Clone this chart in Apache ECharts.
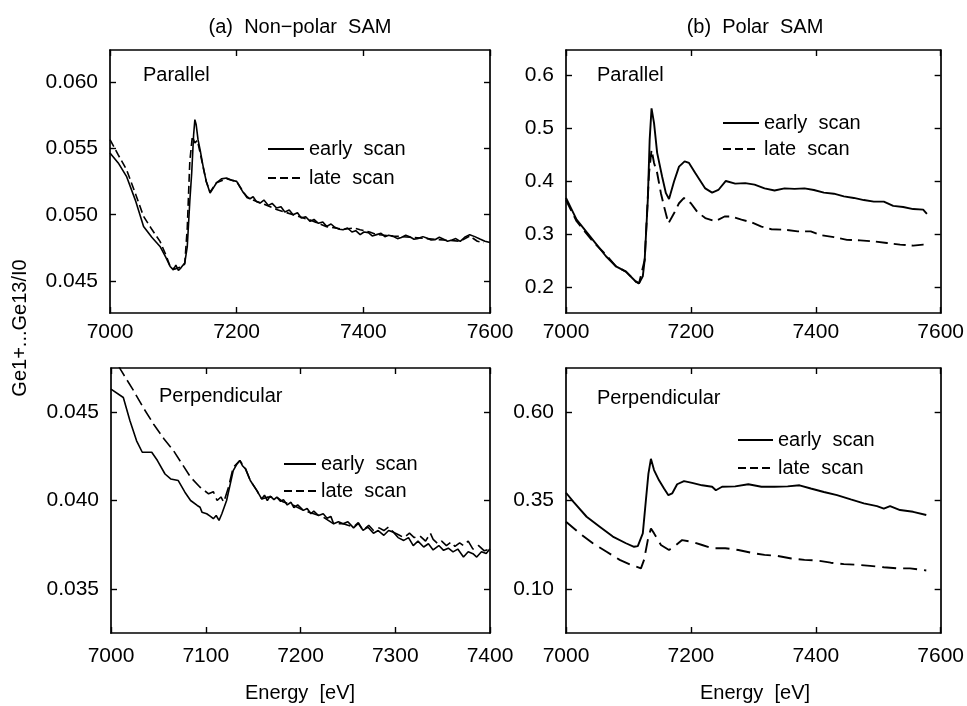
<!DOCTYPE html>
<html>
<head>
<meta charset="utf-8">
<script src="https://cdn.jsdelivr.net/npm/echarts@6/dist/echarts.min.js"></script>
<style>
  html, body { margin: 0; padding: 0; background: #fff; }
  #chart { width: 967px; height: 706px; }
</style>
</head>
<body>
<div id="chart"></div>
<script>
// ---- data (energy in eV, signal Ge1+...Ge13/I0) ----

// (a) non-polar, parallel
const aParEarlyE = [7000,7013,7026,7040,7053,7066,7079,7088,7095,7100,7104,7108,7112,7118,7122,7126,7129,7132,7134,7136,7139,7143,7147,7152,7158,7163,7168,7176,7184,7192,7200,7205,7210,7216,7221,7226,7231,7237,7243,7250,7256,7263,7270,7276,7283,7289,7296,7302,7309,7316,7322,7329,7336,7342,7349,7355,7362,7368,7375,7382,7388,7395,7401,7408,7414,7421,7428,7434,7440,7447,7454,7460,7467,7474,7480,7487,7494,7500,7507,7513,7520,7526,7533,7540,7546,7553,7560,7568,7576,7584,7592,7600];
const aParEarlyV = [0.05465,0.05390,0.05289,0.05110,0.04912,0.04830,0.04761,0.04680,0.04610,0.04585,0.04620,0.04580,0.04600,0.04636,0.04760,0.05100,0.05314,0.05600,0.05716,0.05680,0.05565,0.05470,0.05364,0.05250,0.05163,0.05200,0.05239,0.05270,0.05276,0.05260,0.05251,0.05210,0.05170,0.05138,0.05120,0.05135,0.05100,0.05088,0.05110,0.05070,0.05085,0.05050,0.05060,0.05020,0.05035,0.05000,0.05015,0.04975,0.04985,0.04950,0.04965,0.04935,0.04945,0.04912,0.04930,0.04905,0.04890,0.04887,0.04900,0.04870,0.04880,0.04850,0.04870,0.04865,0.04840,0.04850,0.04860,0.04835,0.04845,0.04837,0.04820,0.04828,0.04845,0.04832,0.04815,0.04822,0.04835,0.04824,0.04810,0.04812,0.04830,0.04817,0.04800,0.04810,0.04820,0.04799,0.04830,0.04850,0.04835,0.04817,0.04800,0.04791];
const aParLateE = [7000,7013,7026,7040,7053,7066,7079,7088,7095,7102,7108,7114,7118,7122,7126,7130,7134,7138,7143,7147,7152,7158,7168,7184,7200,7216,7237,7263,7289,7316,7342,7368,7385,7395,7410,7421,7447,7474,7500,7526,7553,7568,7580,7590];
const aParLateV = [0.05565,0.05450,0.05340,0.05160,0.04987,0.04890,0.04799,0.04700,0.04610,0.04590,0.04600,0.04610,0.04630,0.04900,0.05400,0.05590,0.05540,0.05560,0.05450,0.05360,0.05250,0.05170,0.05240,0.05270,0.05250,0.05130,0.05090,0.05040,0.05000,0.04960,0.04910,0.04890,0.04900,0.04887,0.04870,0.04850,0.04840,0.04830,0.04820,0.04810,0.04800,0.04840,0.04800,0.04790];

// (b) polar, parallel
const bParEarlyE = [7000,7017,7043,7064,7080,7096,7112,7117,7123,7126,7131,7134,7137,7141,7146,7154,7160,7165,7173,7181,7190,7197,7207,7223,7234,7244,7256,7271,7287,7302,7318,7334,7350,7366,7382,7397,7413,7429,7445,7461,7477,7493,7509,7524,7540,7556,7572,7578];
const bParEarlyV = [0.369,0.328,0.290,0.259,0.240,0.230,0.211,0.208,0.221,0.252,0.365,0.479,0.538,0.510,0.454,0.409,0.378,0.367,0.400,0.428,0.438,0.435,0.416,0.387,0.379,0.384,0.401,0.396,0.397,0.394,0.387,0.383,0.387,0.386,0.387,0.384,0.379,0.377,0.372,0.369,0.365,0.362,0.362,0.354,0.352,0.348,0.347,0.339];
const bParLateE = [7000,7017,7043,7064,7080,7096,7112,7117,7126,7133,7137,7141,7146,7152,7157,7164,7173,7181,7189,7200,7210,7223,7239,7254,7265,7281,7297,7313,7329,7350,7371,7392,7408,7429,7450,7471,7493,7514,7535,7556,7572,7578];
const bParLateV = [0.365,0.325,0.287,0.262,0.240,0.230,0.211,0.208,0.252,0.416,0.460,0.435,0.416,0.378,0.353,0.321,0.340,0.359,0.369,0.359,0.343,0.331,0.325,0.334,0.334,0.328,0.323,0.315,0.310,0.309,0.306,0.306,0.299,0.295,0.290,0.289,0.287,0.284,0.281,0.279,0.281,0.281];

// (a) non-polar, perpendicular
const aPerEarlyE = [7000,7013,7020,7027,7033,7043,7049,7057,7063,7071,7078,7084,7091,7094,7096,7101,7105,7108,7111,7114,7117,7122,7129,7133,7136,7139,7142,7147,7154,7159,7162,7165,7168,7172,7175,7179,7182,7186,7190,7193,7197,7203,7207,7211,7214,7219,7224,7228,7232,7235,7240,7245,7250,7256,7261,7266,7271,7277,7282,7288,7293,7298,7303,7309,7314,7319,7324,7330,7335,7340,7346,7351,7356,7361,7366,7372,7377,7382,7386,7391,7396,7400];
const aPerEarlyV = [0.04630,0.04583,0.04451,0.04338,0.04273,0.04273,0.04226,0.04150,0.04122,0.04113,0.04047,0.04000,0.03972,0.03962,0.03934,0.03925,0.03910,0.03897,0.03915,0.03887,0.03925,0.04000,0.04169,0.04207,0.04226,0.04195,0.04179,0.04113,0.04056,0.04009,0.04030,0.04000,0.04025,0.04005,0.04019,0.03995,0.04005,0.03975,0.03990,0.03960,0.03975,0.03944,0.03955,0.03925,0.03940,0.03915,0.03925,0.03900,0.03910,0.03868,0.03880,0.03868,0.03880,0.03845,0.03870,0.03831,0.03850,0.03815,0.03830,0.03803,0.03830,0.03821,0.03790,0.03774,0.03790,0.03745,0.03770,0.03737,0.03755,0.03720,0.03745,0.03718,0.03730,0.03709,0.03725,0.03680,0.03710,0.03699,0.03680,0.03710,0.03700,0.03727];
const aPerLateE = [7000,7010,7024,7034,7045,7056,7066,7075,7084,7094,7103,7108,7112,7116,7119,7124,7129,7136,7142,7147,7154,7159,7165,7175,7182,7193,7203,7214,7224,7235,7245,7256,7261,7266,7272,7277,7283,7288,7293,7298,7304,7309,7315,7320,7326,7332,7337,7340,7345,7349,7354,7359,7363,7368,7372,7377,7382,7388,7394,7400];
const aPerLateV = [0.04850,0.04742,0.04620,0.04526,0.04432,0.04348,0.04282,0.04207,0.04132,0.04075,0.04038,0.04050,0.04000,0.04020,0.03991,0.04075,0.04188,0.04226,0.04179,0.04113,0.04056,0.04009,0.04019,0.04019,0.03991,0.03972,0.03944,0.03925,0.03906,0.03868,0.03868,0.03850,0.03875,0.03831,0.03860,0.03830,0.03845,0.03830,0.03850,0.03821,0.03805,0.03790,0.03815,0.03790,0.03800,0.03770,0.03815,0.03780,0.03755,0.03770,0.03745,0.03765,0.03740,0.03760,0.03745,0.03770,0.03725,0.03745,0.03715,0.03727];

// (b) polar, perpendicular
const bPerEarlyE = [7000,7012,7033,7054,7075,7096,7109,7115,7123,7128,7132,7136,7141,7149,7157,7164,7170,7178,7189,7202,7218,7234,7240,7250,7271,7292,7313,7334,7355,7374,7392,7413,7434,7456,7477,7498,7509,7519,7535,7556,7577];
const bPerEarlyV = [0.372,0.346,0.304,0.276,0.248,0.229,0.219,0.221,0.257,0.352,0.426,0.468,0.436,0.407,0.384,0.365,0.370,0.396,0.405,0.400,0.393,0.389,0.379,0.389,0.390,0.396,0.389,0.389,0.390,0.393,0.384,0.374,0.365,0.353,0.342,0.334,0.327,0.334,0.323,0.318,0.309];
const bPerLateE = [7000,7022,7043,7065,7086,7104,7120,7125,7131,7136,7141,7152,7165,7173,7186,7202,7218,7234,7255,7276,7297,7318,7339,7361,7382,7403,7424,7445,7466,7487,7509,7530,7551,7577];
const bPerLateV = [0.290,0.257,0.229,0.205,0.182,0.168,0.158,0.182,0.238,0.271,0.257,0.224,0.210,0.219,0.238,0.233,0.224,0.215,0.215,0.210,0.202,0.196,0.193,0.186,0.182,0.180,0.174,0.170,0.168,0.165,0.161,0.158,0.158,0.152];

// tick labels
const xTicksWide = [7000, 7200, 7400, 7600];
const xTicksNarrow = [7000, 7100, 7200, 7300, 7400];
const yTicksAPar = [0.045, 0.050, 0.055, 0.060];
const yTicksBPar = [0.2, 0.3, 0.4, 0.5, 0.6];
const yTicksAPer = [0.035, 0.040, 0.045];
const yTicksBPer = [0.10, 0.35, 0.60];

// ---- chart ----
const FONT = "'Liberation Sans', Arial, sans-serif";
const chart = echarts.init(document.getElementById('chart'), null, { renderer: 'canvas' });

function zip(xs, ys) {
    return xs.map((x, i) => [x, ys[i]]);
}

const grids = [
    { left: 110, top: 50, width: 380, height: 263 },
    { left: 566, top: 50, width: 378, height: 263 },
    { left: 111, top: 368, width: 379, height: 265 },
    { left: 566, top: 368, width: 378, height: 265 }
];

const panels = [
    { xMin: 7000, xMax: 7600, xTicks: xTicksWide, yMin: 0.0426, yMax: 0.0624, yTicks: yTicksAPar, dec: 3, labelMargin: 9 },
    { xMin: 7000, xMax: 7600, xTicks: xTicksWide, yMin: 0.152, yMax: 0.648, yTicks: yTicksBPar, dec: 1, labelMargin: 9 },
    { xMin: 7000, xMax: 7400, xTicks: xTicksNarrow, yMin: 0.0325, yMax: 0.0475, yTicks: yTicksAPer, dec: 3, labelMargin: 13 },
    { xMin: 7000, xMax: 7600, xTicks: xTicksWide, yMin: -0.025, yMax: 0.725, yTicks: yTicksBPer, dec: 2, labelMargin: 13 }
];

const axisLine = { show: true, onZero: false, lineStyle: { color: '#000', width: 1.7 } };
const tickStyle = { color: '#000', width: 1.4 };

const xAxes = [];
const yAxes = [];
panels.forEach((p, i) => {
    // bottom axis with labels
    xAxes.push({
        type: 'value', gridIndex: i, min: p.xMin, max: p.xMax, position: 'bottom',
        axisLine: axisLine, splitLine: { show: false },
        axisTick: { inside: true, length: 6, lineStyle: tickStyle, customValues: p.xTicks },
        axisLabel: {
            customValues: p.xTicks, margin: p.labelMargin, color: '#000',
            fontFamily: FONT, fontSize: 21, formatter: v => String(v)
        }
    });
    // mirrored top axis
    xAxes.push({
        type: 'value', gridIndex: i, min: p.xMin, max: p.xMax, position: 'top',
        axisLine: axisLine, splitLine: { show: false },
        axisTick: { inside: true, length: 6, lineStyle: tickStyle, customValues: p.xTicks },
        axisLabel: { show: false }
    });
    yAxes.push({
        type: 'value', gridIndex: i, min: p.yMin, max: p.yMax, position: 'left',
        axisLine: axisLine, splitLine: { show: false },
        axisTick: { inside: true, length: 6, lineStyle: tickStyle, customValues: p.yTicks },
        axisLabel: {
            customValues: p.yTicks, margin: 12, color: '#000',
            fontFamily: FONT, fontSize: 21, formatter: v => v.toFixed(p.dec)
        }
    });
    yAxes.push({
        type: 'value', gridIndex: i, min: p.yMin, max: p.yMax, position: 'right',
        axisLine: axisLine, splitLine: { show: false },
        axisTick: { inside: true, length: 6, lineStyle: tickStyle, customValues: p.yTicks },
        axisLabel: { show: false }
    });
});

function curve(name, i, data, dash, width) {
    return {
        type: 'line', name: name,
        xAxisIndex: i * 2, yAxisIndex: i * 2,
        data: data, showSymbol: false, symbol: 'none',
        itemStyle: { color: '#000' },
        lineStyle: { color: '#000', width: width || 1.6, type: dash || 'solid' },
        emphasis: { disabled: true },
        animation: false
    };
}

const series = [
    curve('early scan', 0, zip(aParEarlyE, aParEarlyV)),
    curve('late scan', 0, zip(aParLateE, aParLateV), [8, 4]),
    curve('early scan', 1, zip(bParEarlyE, bParEarlyV), null, 1.9),
    curve('late scan', 1, zip(bParLateE, bParLateV), [12, 6], 1.9),
    curve('early scan', 2, zip(aPerEarlyE, aPerEarlyV)),
    curve('late scan', 2, zip(aPerLateE, aPerLateV), [12, 5]),
    curve('early scan', 3, zip(bPerEarlyE, bPerEarlyV), null, 1.9),
    curve('late scan', 3, zip(bPerLateE, bPerLateV), [14, 7], 1.9)
];

// one legend box per panel
function legendAt(left, top, width, gap) {
    return {
        left: left, top: top, orient: 'vertical', padding: 0,
        itemWidth: width, itemHeight: 14, itemGap: gap,
        selectedMode: false,
        data: ['early scan', 'late scan'],
        itemStyle: { opacity: 0 },
        formatter: n => n.replace(' ', '  '),
        textStyle: { fontFamily: FONT, fontSize: 20, lineHeight: 24, color: '#000' }
    };
}

const textStyle = { fontFamily: FONT, fontSize: 20, fill: '#000' };
function label(x, y, text, align) {
    return {
        type: 'text', x: x, y: y, silent: true,
        style: Object.assign({ text: text, textAlign: align || 'left', textVerticalAlign: 'middle' }, textStyle)
    };
}

chart.setOption({
    backgroundColor: '#fff',
    animation: false,
    grid: grids,
    xAxis: xAxes,
    yAxis: yAxes,
    series: series,
    legend: [
        legendAt(267, 137, 36, 5),
        legendAt(722, 111, 36, 2),
        legendAt(283, 452, 32, 3),
        legendAt(737, 428, 35, 4)
    ],
    graphic: [
        label(300, 27, '(a)  Non\u2212polar  SAM', 'center'),
        label(755, 27, '(b)  Polar  SAM', 'center'),
        label(143, 75, 'Parallel'),
        label(597, 75, 'Parallel'),
        label(159, 396, 'Perpendicular'),
        label(597, 398, 'Perpendicular'),
        label(300, 693, 'Energy  [eV]', 'center'),
        label(755, 693, 'Energy  [eV]', 'center'),
        {
            type: 'text', x: 20, y: 328, rotation: Math.PI / 2, silent: true,
            style: Object.assign({ text: 'Ge1+...Ge13/I0', textAlign: 'center', textVerticalAlign: 'middle' }, textStyle)
        }
    ]
});
</script>
</body>
</html>
